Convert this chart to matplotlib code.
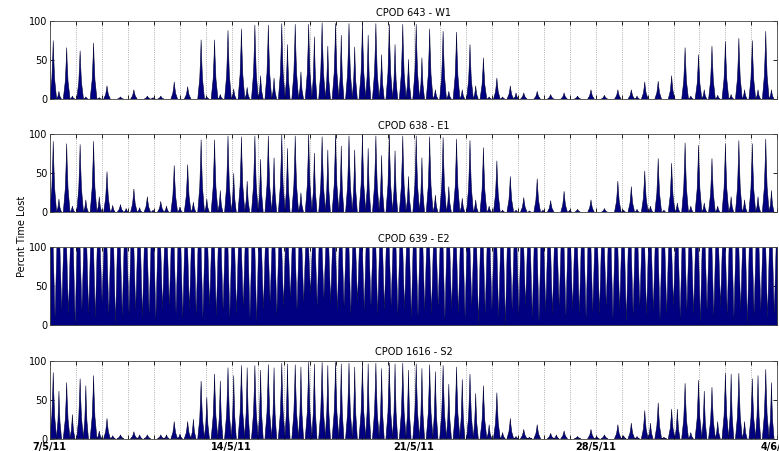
import numpy as np
import matplotlib
matplotlib.use("Agg")
import matplotlib.pyplot as plt
from matplotlib.collections import PolyCollection

# time axis: days since 7/5/11, one peak pair per tidal cycle (12h25m)
N_DAYS = 28
CYCLE_DAYS = 745.0 / 1440.0
FIRST_PEAK_DAY = 0.13
MINOR_OFFSET_DAY = 0.22

day_labels = ["7/5/11", "14/5/11", "21/5/11", "28/5/11", "4/6/11"]
titles = ["CPOD 643 - W1", "CPOD 638 - E1", "CPOD 639 - E2", "CPOD 1616 - S2"]

# per tidal cycle: main peak and secondary peak (% time lost)
w1_major = [75, 66, 62, 72, 17, 3, 12, 4, 4, 22, 16, 76, 76, 88, 90, 95, 95, 97,
            96, 96, 98, 97, 97, 97, 97, 96, 96, 96, 90, 87, 86, 70, 53, 27, 17, 8,
            10, 6, 8, 4, 12, 5, 12, 12, 22, 23, 30, 66, 57, 68, 74, 78, 75, 87]
w1_minor = [10, 4, 3, 2, 0, 0, 0, 2, 0, 0, 0, 3, 6, 13, 15, 30, 27, 70,
            35, 80, 68, 82, 67, 82, 57, 70, 51, 53, 12, 10, 12, 17, 3, 3, 8, 0,
            0, 0, 0, 0, 0, 0, 0, 4, 0, 0, 0, 4, 12, 5, 6, 12, 12, 12]

e1_major = [91, 88, 87, 91, 52, 10, 30, 20, 14, 60, 61, 93, 93, 98, 97, 98, 98, 100,
            98, 100, 97, 100, 98, 100, 98, 100, 98, 98, 97, 96, 94, 92, 83, 66, 46, 19,
            43, 15, 27, 4, 16, 5, 40, 33, 53, 69, 63, 89, 86, 69, 88, 92, 88, 94]
e1_minor = [17, 8, 16, 20, 9, 5, 6, 3, 8, 7, 13, 17, 28, 50, 40, 68, 70, 82,
            25, 76, 80, 85, 80, 82, 73, 79, 46, 70, 22, 33, 18, 16, 8, 3, 3, 2,
            3, 0, 3, 0, 0, 0, 3, 4, 8, 3, 12, 8, 12, 8, 20, 16, 20, 28]

s2_major = [85, 72, 77, 81, 26, 5, 9, 5, 5, 22, 22, 74, 83, 91, 94, 94, 95, 97,
            95, 98, 98, 98, 97, 97, 97, 97, 97, 96, 95, 94, 92, 83, 68, 59, 26, 12,
            18, 7, 10, 3, 12, 5, 18, 20, 36, 46, 38, 71, 75, 66, 84, 84, 77, 89]
s2_minor = [61, 31, 68, 10, 4, 0, 5, 0, 5, 6, 25, 53, 74, 81, 91, 88, 91, 96,
            92, 96, 94, 96, 92, 96, 90, 96, 88, 90, 86, 70, 76, 58, 18, 8, 3, 2,
            0, 5, 0, 0, 3, 0, 4, 3, 20, 2, 38, 8, 61, 22, 83, 22, 81, 72]

# E2 is saturated; only the dips at each quarter day drop below 100
e2_dips = [10, 20, 15, 3, 20, 15, 10, 30, 15, 2, 12, 15, 20, 10, 15, 8, 20, 25,
           15, 10, 20, 15, 10, 25, 12, 20, 10,
           15, 25, 10, 5, 20, 30, 15, 25, 35, 20, 30, 40, 25, 35, 30, 20, 25,
           15, 30, 20, 25, 15, 20, 25, 15, 20, 10,
           12, 20, 15, 25, 8, 20, 15, 10, 25, 2, 15, 20, 10, 2, 20, 15, 25,
           10, 5, 20, 15, 25, 12, 20, 15, 10, 18,
           15, 25, 10, 20, 5, 15, 25, 12, 20, 8, 15, 25, 10, 20, 15, 5, 20,
           12, 25, 15, 10, 20, 3, 15, 20, 10, 15]

NAVY = "#000080"


def spike_polys(times, heights, half_width):
	xs = np.array([-1.0, -0.4, -0.12, 0.0, 0.12, 0.4, 1.0]) * half_width
	fr = np.array([0.0, 0.35, 0.75, 1.0, 0.75, 0.35, 0.0])
	polys = []
	for t, h in zip(times, heights):
		if h <= 0:
			continue
		polys.append(np.column_stack([t + xs, h * fr]))
	return polys


def draw_peaks(ax, major, minor):
	t_major = FIRST_PEAK_DAY + CYCLE_DAYS * np.arange(len(major))
	t_minor = t_major + MINOR_OFFSET_DAY
	polys = spike_polys(t_major, major, 0.13) + spike_polys(t_minor, minor, 0.10)
	pc = PolyCollection(polys, facecolor=NAVY, edgecolor="#000033", linewidth=0.4)
	ax.add_collection(pc)


def draw_saturated(ax, dips):
	t_dip = FIRST_PEAK_DAY + 0.05 + CYCLE_DAYS / 2 * np.arange(len(dips))
	x = [0.0]
	y = [100.0]
	for t, d in zip(t_dip, dips):
		x += [t - 0.07, t, t + 0.07]
		y += [100.0, d, 100.0]
	x.append(N_DAYS)
	y.append(100.0)
	ax.fill_between(x, 0, y, facecolor=NAVY, edgecolor="#000040", linewidth=0.3)


def style_axis(ax, title, show_labels):
	ax.set_xlim(0, N_DAYS)
	ax.set_ylim(0, 100)
	ax.set_yticks([0, 50, 100])
	ax.set_xticks(np.arange(0, N_DAYS + 1, 7))
	ax.set_xticks(np.arange(0, N_DAYS + 1, 1), minor=True)
	ax.set_axisbelow(True)
	ax.grid(True, axis="x", which="both", linestyle=":", color="#999999", linewidth=0.6)
	ax.tick_params(which="both", direction="in", top=True, right=True,
	               labelsize=7, length=3, width=0.6, pad=2)
	if show_labels:
		ax.set_xticklabels(day_labels, fontsize=7, fontweight="bold")
	else:
		ax.set_xticklabels([])
	ax.set_title(title, fontsize=7, pad=4)
	for s in ax.spines.values():
		s.set_color("#444444")
		s.set_linewidth(0.6)


fig = plt.figure(figsize=(7.79, 4.51), dpi=100)
left, width, height = 0.064, 0.934, 0.173
bottoms = [0.780, 0.529, 0.279, 0.027]
axes = [fig.add_axes([left, b, width, height]) for b in bottoms]

draw_peaks(axes[0], w1_major, w1_minor)
draw_peaks(axes[1], e1_major, e1_minor)
draw_saturated(axes[2], e2_dips)
draw_peaks(axes[3], s2_major, s2_minor)

for i, ax in enumerate(axes):
	style_axis(ax, titles[i], i == 3)

fig.text(0.028, 0.475, "Percnt Time Lost", rotation=90, fontsize=7,
         ha="center", va="center")

fig.savefig("out.png", dpi=100)
